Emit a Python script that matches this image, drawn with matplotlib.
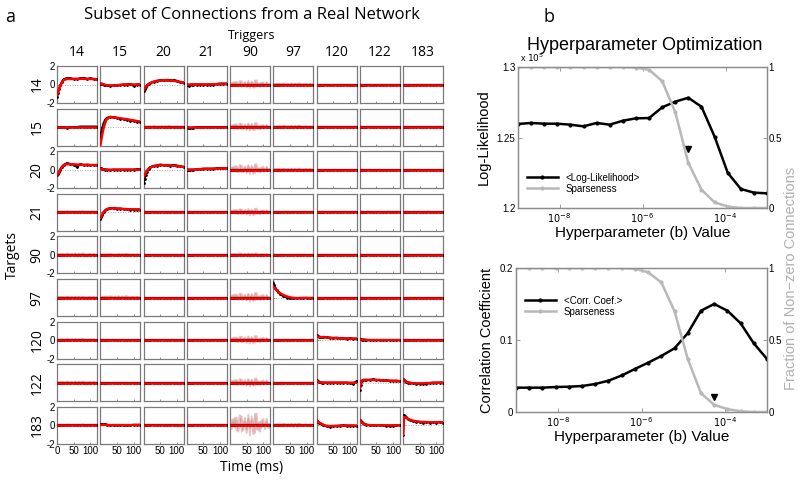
import matplotlib
matplotlib.use('Agg')
import matplotlib.pyplot as plt
from matplotlib.ticker import NullLocator, FixedLocator

W, H = 800, 480

# ---------------- panel a : subset of connections ----------------
cells = [14, 15, 20, 21, 90, 97, 120, 122, 183]
t_ms = [0, 3, 6, 10, 15, 20, 30, 40, 50, 60, 70, 80, 90, 100, 110, 120]

# black = measured response, red = model fit  (only non-flat panels listed)
data_14_14 = [-1.3, -0.9, -0.5, -0.1, 0.3, 0.55, 0.7, 0.65, 0.6, 0.6, 0.65, 0.7, 0.6, 0.65, 0.6, 0.55]
fit_14_14 = [-1.1, -0.8, -0.5, -0.15, 0.25, 0.5, 0.6, 0.6, 0.6, 0.6, 0.62, 0.62, 0.6, 0.6, 0.58, 0.55]
data_14_15 = [0.1, 0.1, 0.05, 0.0, -0.05, -0.1, -0.15, -0.1, -0.1, -0.05, 0.0, 0.0, 0.05, -0.15, 0.0, 0.0]
fit_14_15 = [0.1, 0.08, 0.05, 0.0, -0.05, -0.08, -0.1, -0.1, -0.08, -0.05, -0.02, 0.0, 0.0, 0.0, 0.0, 0.0]
data_14_20 = [-0.7, -0.5, -0.3, -0.1, 0.05, 0.15, 0.3, 0.4, 0.45, 0.45, 0.5, 0.45, 0.45, 0.4, 0.25, 0.2]
fit_14_20 = [-0.6, -0.45, -0.3, -0.12, 0.03, 0.15, 0.28, 0.38, 0.42, 0.45, 0.45, 0.43, 0.4, 0.35, 0.28, 0.22]
data_14_21 = [0.0, -0.1, -0.12, -0.1, 0.0, 0.0, 0.0, 0.0, 0.0, 0.0, 0.0, 0.0, 0.05, 0.1, 0.1, 0.1]
fit_14_21 = [0.0, 0.0, 0.0, 0.0, 0.0, 0.0, 0.0, 0.0, 0.0, 0.0, 0.0, 0.02, 0.03, 0.05, 0.05, 0.05]
data_15_14 = [0.0, 0.0, 0.0, 0.0, 0.0, 0.0, -0.05, 0.0, 0.0, 0.0, 0.05, 0.05, 0.05, 0.05, 0.05, 0.05]
fit_15_14 = [0.0, 0.0, 0.0, 0.0, 0.0, 0.0, 0.0, 0.0, 0.0, 0.0, 0.0, 0.0, 0.0, 0.0, 0.0, 0.0]
data_15_15 = [-1.1, -0.6, -0.1, 0.4, 0.8, 1.0, 1.1, 1.05, 1.0, 0.9, 0.85, 0.8, 0.7, 0.7, 0.6, 0.55]
fit_15_15 = [-2.0, -1.4, -0.8, -0.1, 0.5, 0.9, 1.1, 1.05, 1.0, 0.95, 0.9, 0.85, 0.78, 0.72, 0.65, 0.6]
data_15_21 = [0.0, -0.05, -0.1, -0.1, -0.1, -0.05, 0.0, 0.0, 0.0, 0.0, 0.0, 0.0, 0.0, 0.0, 0.0, 0.0]
fit_15_21 = [0.0, 0.0, 0.0, 0.0, 0.0, 0.0, 0.0, 0.0, 0.0, 0.0, 0.0, 0.0, 0.0, 0.0, 0.0, 0.0]
data_20_14 = [-0.6, -0.5, -0.3, 0.0, 0.3, 0.5, 0.7, 0.6, 0.55, 0.3, 0.6, 0.5, 0.55, 0.5, 0.5, 0.5]
fit_20_14 = [-0.6, -0.45, -0.25, 0.05, 0.3, 0.5, 0.6, 0.6, 0.58, 0.55, 0.55, 0.52, 0.5, 0.5, 0.5, 0.5]
data_20_15 = [0.15, 0.15, 0.1, 0.05, 0.0, 0.0, -0.05, 0.0, 0.0, 0.0, 0.0, 0.0, 0.0, 0.0, 0.05, 0.05]
fit_20_15 = [0.1, 0.1, 0.05, 0.02, 0.0, 0.0, 0.0, 0.0, 0.0, 0.0, 0.0, 0.0, 0.0, 0.0, 0.0, 0.0]
data_20_20 = [-1.4, -1.0, -0.6, -0.2, 0.1, 0.25, 0.4, 0.45, 0.55, 0.5, 0.5, 0.45, 0.5, 0.45, 0.35, 0.3]
fit_20_20 = [-0.8, -0.6, -0.4, -0.15, 0.1, 0.25, 0.38, 0.45, 0.48, 0.48, 0.48, 0.46, 0.43, 0.4, 0.35, 0.3]
data_20_21 = [0.0, 0.0, 0.0, 0.0, 0.0, 0.0, 0.05, 0.05, 0.1, 0.1, 0.1, 0.1, 0.15, 0.15, 0.15, 0.15]
fit_20_21 = [0.0, 0.0, 0.0, 0.0, 0.0, 0.0, 0.04, 0.06, 0.08, 0.1, 0.1, 0.11, 0.12, 0.13, 0.14, 0.15]
data_21_15 = [-0.7, -0.5, -0.3, 0.0, 0.2, 0.35, 0.45, 0.45, 0.4, 0.4, 0.35, 0.35, 0.3, 0.3, 0.3, 0.3]
fit_21_15 = [-0.6, -0.45, -0.25, 0.0, 0.2, 0.33, 0.42, 0.42, 0.4, 0.38, 0.35, 0.33, 0.32, 0.3, 0.3, 0.28]
data_97_97 = [1.6, 1.3, 1.0, 0.8, 0.6, 0.4, 0.15, 0.0, -0.1, -0.1, -0.1, -0.05, -0.1, -0.05, -0.1, -0.05]
fit_97_97 = [1.2, 1.1, 0.95, 0.8, 0.62, 0.48, 0.28, 0.12, 0.02, -0.04, -0.06, -0.06, -0.05, -0.05, -0.05, -0.05]
data_120_120 = [0.5, 0.4, 0.35, 0.35, 0.3, 0.35, 0.3, 0.25, 0.2, 0.25, 0.2, 0.2, 0.15, 0.2, 0.15, 0.15]
fit_120_120 = [0.4, 0.38, 0.35, 0.33, 0.32, 0.3, 0.28, 0.26, 0.24, 0.22, 0.2, 0.18, 0.17, 0.16, 0.15, 0.15]
data_120_122 = [0.1, 0.1, 0.05, 0.05, 0.05, 0.0, 0.0, 0.0, 0.0, 0.0, 0.0, 0.0, 0.0, 0.0, 0.0, 0.0]
fit_120_122 = [0.05, 0.05, 0.05, 0.05, 0.03, 0.02, 0.0, 0.0, 0.0, 0.0, 0.0, 0.0, 0.0, 0.0, 0.0, 0.0]
data_122_120 = [0.25, 0.15, 0.1, 0.05, 0.0, 0.0, 0.0, 0.0, 0.0, 0.0, 0.0, 0.0, 0.0, -0.05, -0.1, 0.15]
fit_122_120 = [0.2, 0.15, 0.1, 0.05, 0.02, 0.0, 0.0, 0.0, 0.0, 0.0, 0.0, 0.0, 0.0, 0.0, 0.0, 0.0]
data_122_122 = [-0.8, -0.2, 0.2, 0.3, 0.3, 0.3, 0.3, 0.35, 0.3, 0.3, 0.25, 0.25, 0.2, 0.2, 0.2, 0.15]
fit_122_122 = [-0.6, -0.1, 0.2, 0.28, 0.3, 0.3, 0.3, 0.3, 0.28, 0.27, 0.25, 0.24, 0.22, 0.2, 0.2, 0.18]
data_122_183 = [0.4, 0.3, 0.2, 0.1, 0.0, 0.0, -0.05, -0.1, -0.1, -0.15, -0.1, -0.05, 0.0, 0.0, 0.0, 0.0]
fit_122_183 = [0.35, 0.28, 0.2, 0.1, 0.03, -0.02, -0.06, -0.08, -0.08, -0.07, -0.05, -0.03, -0.02, -0.01, 0.0, 0.0]
data_183_15 = [0.1, 0.1, 0.1, 0.1, 0.1, 0.05, 0.0, 0.0, 0.0, 0.0, 0.0, 0.0, 0.0, 0.05, 0.05, 0.05]
fit_183_15 = [0.05, 0.05, 0.05, 0.05, 0.05, 0.03, 0.02, 0.02, 0.02, 0.02, 0.02, 0.02, 0.02, 0.02, 0.02, 0.02]
data_183_120 = [0.5, 0.4, 0.3, 0.2, 0.1, 0.0, -0.1, -0.15, -0.1, -0.1, -0.05, 0.0, -0.05, -0.05, -0.05, -0.1]
fit_183_120 = [0.55, 0.45, 0.35, 0.25, 0.15, 0.05, -0.05, -0.08, -0.08, -0.06, -0.04, -0.03, -0.02, -0.02, -0.02, -0.02]
data_183_122 = [0.6, 0.5, 0.35, 0.2, 0.1, 0.05, 0.0, 0.0, 0.0, 0.0, 0.0, -0.05, -0.1, -0.05, 0.0, 0.0]
fit_183_122 = [0.55, 0.45, 0.32, 0.2, 0.1, 0.05, 0.02, 0.0, 0.0, 0.0, 0.0, 0.0, 0.0, 0.0, 0.0, 0.0]
data_183_183 = [-1.0, 1.1, 1.0, 0.85, 0.7, 0.6, 0.45, 0.4, 0.35, 0.3, 0.35, 0.3, 0.35, 0.3, 0.35, 0.3]
fit_183_183 = [-1.0, 0.9, 0.9, 0.8, 0.7, 0.6, 0.5, 0.42, 0.38, 0.35, 0.34, 0.33, 0.33, 0.32, 0.32, 0.32]

responses = {
    (14, 14): (data_14_14, fit_14_14), (14, 15): (data_14_15, fit_14_15),
    (14, 20): (data_14_20, fit_14_20), (14, 21): (data_14_21, fit_14_21),
    (15, 14): (data_15_14, fit_15_14), (15, 15): (data_15_15, fit_15_15),
    (15, 21): (data_15_21, fit_15_21), (20, 14): (data_20_14, fit_20_14),
    (20, 15): (data_20_15, fit_20_15), (20, 20): (data_20_20, fit_20_20),
    (20, 21): (data_20_21, fit_20_21), (21, 15): (data_21_15, fit_21_15),
    (97, 97): (data_97_97, fit_97_97), (120, 120): (data_120_120, fit_120_120),
    (120, 122): (data_120_122, fit_120_122), (122, 120): (data_122_120, fit_122_120),
    (122, 122): (data_122_122, fit_122_122), (122, 183): (data_122_183, fit_122_183),
    (183, 15): (data_183_15, fit_183_15), (183, 120): (data_183_120, fit_183_120),
    (183, 122): (data_183_122, fit_183_122), (183, 183): (data_183_183, fit_183_183),
}

# faint noisy traces (poorly constrained connections)
t_noise = [0, 5, 10, 15, 20, 25, 30, 35, 40, 45, 50, 55, 60, 65, 70, 75, 80, 85, 90, 95, 100, 105, 110, 115, 120]
noise_gray = [0.1, -0.3, 0.5, -0.2, 0.6, -0.5, 0.2, 0.7, -0.4, 0.3, -0.6, 0.8, -0.2, 0.4, -0.7, 0.9, -0.3, 0.2, -0.5, 0.4, 0.1, -0.3, 0.5, -0.2, 0.1]
noise_pink = [-0.2, 0.4, -0.1, 0.6, -0.4, 0.3, 0.8, -0.5, 0.1, 0.6, -0.3, 0.5, -0.8, 0.7, 0.2, -0.6, 0.9, -0.4, 0.3, -0.2, 0.5, -0.1, 0.3, 0.0, -0.2]
noise_amp = {
    (14, 90): 0.5, (15, 90): 0.5, (20, 90): 0.65, (21, 90): 0.45, (90, 90): 0.2,
    (97, 90): 0.55, (120, 90): 0.5, (122, 90): 0.5, (183, 90): 1.4,
    (14, 97): 0.15, (15, 97): 0.2, (15, 20): 0.15, (20, 97): 0.15, (21, 14): 0.12,
    (90, 14): 0.2, (97, 14): 0.12, (120, 14): 0.15, (122, 14): 0.15, (183, 97): 0.2,
    (90, 15): 0.12, (97, 15): 0.2, (183, 14): 0.12,
}

# ---------------- panel b : hyperparameter optimisation ----------------
b_values = [1.0e-9, 2.07e-9, 4.28e-9, 8.86e-9, 1.83e-8, 3.79e-8, 7.85e-8, 1.62e-7, 3.36e-7, 6.95e-7,
            1.44e-6, 2.98e-6, 6.16e-6, 1.27e-5, 2.64e-5, 5.46e-5, 1.13e-4, 2.34e-4, 4.83e-4, 1.0e-3]
loglik_e5 = [1.2596, 1.2603, 1.2598, 1.2598, 1.2591, 1.2579, 1.2603, 1.2591, 1.2619, 1.2636,
             1.2638, 1.2714, 1.2754, 1.2782, 1.2718, 1.2506, 1.2250, 1.2135, 1.2109, 1.2104]
sparse_ll = [1.0, 1.0, 1.0, 1.0, 1.0, 1.0, 1.0, 1.0, 1.0, 0.995,
             0.98, 0.90, 0.68, 0.32, 0.13, 0.04, 0.01, 0.0, 0.0, 0.0]
corr_coef = [0.0338, 0.0338, 0.0338, 0.0347, 0.0351, 0.0361, 0.0389, 0.0435, 0.0507, 0.0597,
             0.0685, 0.0778, 0.0885, 0.1093, 0.1407, 0.150, 0.1407, 0.1232, 0.0954, 0.0736]
sparse_cc = [1.0, 1.0, 1.0, 1.0, 1.0, 1.0, 1.0, 1.0, 1.0, 0.995,
             0.97, 0.90, 0.70, 0.37, 0.13, 0.05, 0.02, 0.005, 0.0, 0.0]
best_ll = (1.27e-5, 1.2416)
best_cc = (5.46e-5, 0.0213)

ARIAL = ['Liberation Sans', 'DejaVu Sans']
MYRIAD = ['Open Sans', 'DejaVu Sans']
plt.rcParams['font.family'] = ARIAL

fig = plt.figure(figsize=(8, 4.8), dpi=100)


def px_axes(left, top, right, bottom):
    return fig.add_axes([left / W, 1 - bottom / H, (right - left) / W, (bottom - top) / H])


spine_gray = '#7a7a7a'
for i, target in enumerate(cells):
    top = 66 + i * 42.6
    for j, trigger in enumerate(cells):
        left = 57 + j * 43.25
        ax = px_axes(left, top, left + 40, top + 37)
        ax.set_xlim(0, 120)
        ax.set_ylim(-2, 2)
        ax.axhline(0, color='#999999', lw=0.6, ls=(0, (1, 2)), zorder=1)
        if (target, trigger) in noise_amp:
            a = noise_amp[(target, trigger)]
            ax.plot(t_noise, [a * v for v in noise_gray], color='#b5b5b5', lw=1.3, alpha=0.7, zorder=2)
            ax.plot(t_noise, [a * v for v in noise_pink], color='#f07070', lw=1.3, alpha=0.45, zorder=2)
        black, red = responses.get((target, trigger), ([0.0] * len(t_ms), [0.0] * len(t_ms)))
        ax.plot(t_ms, black, color='black', lw=1.6, marker='.', ms=2, zorder=3)
        ax.plot(t_ms, red, color='#ff0000', lw=1.8, zorder=4)
        for s in ax.spines.values():
            s.set_color(spine_gray)
            s.set_linewidth(0.9)
        ax.set_xticks([0, 50, 100])
        ax.set_yticks([-2, 0, 2])
        ax.tick_params(direction='in', length=1.5, width=0.6, color=spine_gray,
                       labelsize=7, pad=1.5, top=False, right=False)
        if i == len(cells) - 1:
            ax.set_xticklabels(['0', '50', '100'] if j == 0 else ['', '50', '100'])
        else:
            ax.set_xticklabels([])
        if j == 0 and i % 2 == 0:
            ax.set_yticklabels(['-2', '0', '2'])
        else:
            ax.set_yticklabels([])
        if i == 0:
            fig.text((left + 20) / W, 1 - 52 / H, str(trigger), ha='center', va='center',
                     fontsize=10, family=MYRIAD)
        if j == 0:
            fig.text(37 / W, 1 - (top + 18.5) / H, str(target), ha='center', va='center',
                     rotation=90, fontsize=10, family=MYRIAD)

fig.text(252 / W, 1 - 15 / H, 'Subset of Connections from a Real Network', ha='center', va='center',
         fontsize=12, family=MYRIAD)
fig.text(252 / W, 1 - 35 / H, 'Triggers', ha='center', va='center', fontsize=9, family=MYRIAD)
fig.text(12 / W, 1 - 255 / H, 'Targets', ha='center', va='center', rotation=90, fontsize=10,
         family=MYRIAD)
fig.text(252 / W, 1 - 468 / H, 'Time (ms)', ha='center', va='center', fontsize=10, family=MYRIAD)
fig.text(10 / W, 1 - 17 / H, 'a', ha='center', va='center', fontsize=13, family=MYRIAD)
fig.text(549 / W, 1 - 17 / H, 'b', ha='center', va='center', fontsize=13, family=MYRIAD)

# ---------------- right panels ----------------
panel_gray = '#8c8c8c'
sparse_color = '#b8b8b8'


def hyper_panel(top, bottom, left, yvals, sparse, ylim, yticks, ylabels, ylabel, leg_label, best):
    ax = px_axes(left, top, 767, bottom)
    ax2 = ax.twinx()
    h1, = ax.plot(b_values, yvals, color='black', lw=1.8, marker='.', ms=4, zorder=3)
    ax.plot([best[0]], [best[1]], marker='v', color='black', ms=4, ls='none')
    h2, = ax2.plot(b_values, sparse, color=sparse_color, lw=1.8, marker='.', ms=4)
    ax.set_xscale('log')
    ax.set_xlim(1e-9, 1e-3)
    ax.set_ylim(*ylim)
    ax2.set_ylim(0, 1)
    ax.xaxis.set_major_locator(FixedLocator([1e-8, 1e-6, 1e-4]))
    ax.xaxis.set_minor_locator(NullLocator())
    ax.set_xticklabels([r'$10^{-8}$', r'$10^{-6}$', r'$10^{-4}$'])
    ax.set_yticks(yticks)
    ax.set_yticklabels(ylabels)
    ax2.set_yticks([0, 0.5, 1])
    ax2.set_yticklabels(['0', '0.5', '1'])
    for a in (ax, ax2):
        for s in a.spines.values():
            s.set_color(panel_gray)
            s.set_linewidth(0.9)
    ax.tick_params(direction='in', length=3, width=0.6, color=panel_gray, labelsize=7,
                   top=True, pad=2)
    ax2.tick_params(direction='in', length=3, width=0.6, color=panel_gray, labelsize=7, pad=1)
    ax.set_xlabel('Hyperparameter (b) Value', fontsize=11, labelpad=1)
    ax.set_ylabel(ylabel, fontsize=10.5, labelpad=4)
    ax2.legend([h1, h2], [leg_label, 'Sparseness'], loc='lower left',
               bbox_to_anchor=(0.0, 0.6 if top > 200 else 0.04),
               frameon=False, fontsize=7, handlelength=3.2, handletextpad=0.8, labelspacing=0.1)
    return ax


ax_ll = hyper_panel(67, 208, 518, loglik_e5, sparse_ll, (1.2, 1.3), [1.2, 1.25, 1.3],
                    ['1.2', '1.25', '1.3'], 'Log-Likelihood', '<Log-Likelihood>', best_ll)
ax_cc = hyper_panel(268, 412, 516, corr_coef, sparse_cc, (0, 0.2), [0, 0.1, 0.2],
                    ['0', '0.1', '0.2'], 'Correlation Coefficient', '<Corr. Coef.>', best_cc)

fig.text(520 / W, 1 - 58 / H, r'x $10^{5}$', ha='left', va='center', fontsize=6.5)
fig.text(645 / W, 1 - 45 / H, 'Hyperparameter Optimization', ha='center', va='center', fontsize=13)
fig.text(791 / W, 1 - 278 / H, 'Fraction of Non\u2212zero Connections', ha='center', va='center',
         rotation=90, fontsize=10.5, color='#b0b0b0')

fig.savefig('out.png', dpi=100)
